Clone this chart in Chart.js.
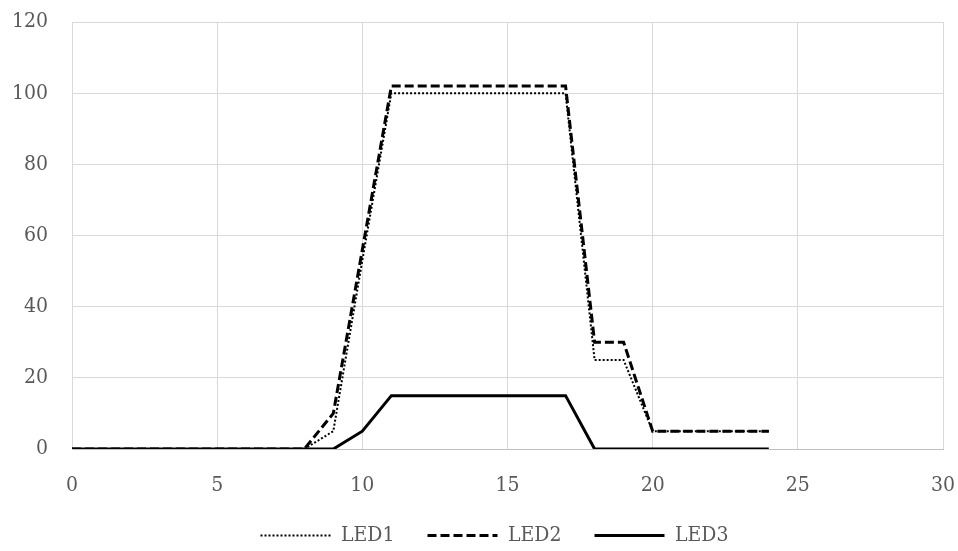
<!DOCTYPE html>
<html>
<head>
<meta charset="utf-8">
<script src="https://cdn.jsdelivr.net/npm/chart.js@4/dist/chart.umd.min.js"></script>
<style>
  html, body { margin: 0; padding: 0; background: #ffffff; }
  #wrap { width: 958px; height: 551px; position: relative; }
</style>
</head>
<body>
<div id="wrap"><canvas id="c"></canvas></div>
<script>
const hours = [0,1,2,3,4,5,6,7,8,9,10,11,12,13,14,15,16,17,18,19,20,21,22,23,24];
const led1 = [0,0,0,0,0,0,0,0,0,5,53,100,100,100,100,100,100,100,25,25,5,5,5,5,5];
const led2 = [0,0,0,0,0,0,0,0,0,10,56,102,102,102,102,102,102,102,30,30,5,5,5,5,5];
const led3 = [0,0,0,0,0,0,0,0,0,0,5,15,15,15,15,15,15,15,0,0,0,0,0,0,0];
const seriesNames = ['LED1', 'LED2', 'LED3'];
const xTicks = [0,5,10,15,20,25,30];
const yTicks = [0,20,40,60,80,100,120];

const FONT = "'DejaVu Serif Condensed', 'Liberation Serif', serif";
const TXT = '#595959';
const FS = 21;

function pts(ys) { return hours.map((h, i) => ({ x: h, y: ys[i] })); }

const legendShift = {
  id: 'legendShift',
  beforeDraw(chart) {
    if (chart.legend && !chart.legend._shifted) {
      chart.legend.left += 23;
      chart.legend.right += 23;
      chart.legend._shifted = true;
    }
  },
  afterLayout(chart) { if (chart.legend) chart.legend._shifted = false; }
};

new Chart(document.getElementById('c'), {
  type: 'line',
  data: {
    datasets: [
      { label: seriesNames[0], data: pts(led1), borderColor: '#000', borderWidth: 2, borderDash: [2, 2], pointRadius: 0, tension: 0, fill: false },
      { label: seriesNames[1], data: pts(led2), borderColor: '#000', borderWidth: 3, borderDash: [9, 4], pointRadius: 0, tension: 0, fill: false },
      { label: seriesNames[2], data: pts(led3), borderColor: '#000', borderWidth: 3, pointRadius: 0, tension: 0, fill: false }
    ]
  },
  plugins: [legendShift],
  options: {
    responsive: true,
    maintainAspectRatio: false,
    animation: false,
    layout: { padding: { left: 0, right: 15, top: 22, bottom: -5 } },
    plugins: {
      tooltip: { enabled: false },
      legend: {
        position: 'bottom',
        labels: {
          usePointStyle: true,
          pointStyle: 'line',
          pointStyleWidth: 70,
          color: TXT,
          font: { family: FONT, size: FS },
          padding: 33,
          generateLabels: (chart) => {
            const items = Chart.defaults.plugins.legend.labels.generateLabels(chart);
            items.forEach((it) => {
              const ds = chart.data.datasets[it.datasetIndex];
              it.lineDash = ds.borderDash || [];
              it.lineWidth = ds.borderWidth;
              it.strokeStyle = '#000';
              it.pointStyle = 'line';
            });
            return items;
          }
        }
      }
    },
    scales: {
      x: {
        type: 'linear',
        min: 0, max: 30,
        afterBuildTicks: (s) => { s.ticks = xTicks.map(v => ({ value: v })); },
        afterFit: (s) => { s.height = 43; s.paddingLeft = 0; s.paddingRight = 0; },
        grid: { color: '#d9d9d9', lineWidth: 1, drawTicks: false },
        border: { color: '#bfbfbf', width: 1 },
        ticks: { color: TXT, font: { family: FONT, size: FS }, padding: 24, maxRotation: 0 }
      },
      y: {
        min: 0, max: 120,
        afterBuildTicks: (s) => { s.ticks = yTicks.map(v => ({ value: v })); },
        afterFit: (s) => { s.width = 72; s.paddingTop = 0; s.paddingBottom = 0; },
        grid: { color: '#d9d9d9', lineWidth: 1, drawTicks: false },
        border: { color: '#d9d9d9', width: 1 },
        ticks: { color: TXT, font: { family: FONT, size: FS }, padding: 24 }
      }
    }
  }
});
</script>
</body>
</html>
